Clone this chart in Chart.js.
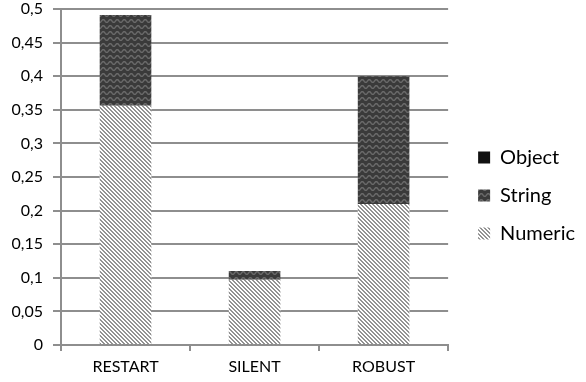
<!DOCTYPE html>
<html>
<head>
<meta charset="utf-8">
<script src="https://cdn.jsdelivr.net/npm/chart.js@4/dist/chart.umd.min.js"></script>
<style>
  html, body { margin: 0; padding: 0; background: #fff; }
  #wrap { width: 586px; height: 382px; }
</style>
</head>
<body>
<div id="wrap"><canvas id="c" width="586" height="382"></canvas></div>
<script>
// Share of failures per recovery mode, split by value type
const categories = ['RESTART', 'SILENT', 'ROBUST'];
const numericValues = [0.356, 0.097, 0.21];
const stringValues = [0.135, 0.013, 0.19];
const objectValues = [0, 0, 0];
const yTicks = { min: 0, max: 0.5, step: 0.05 };

// Fill patterns
function stripePattern() {
  const n = 4;
  const cv = document.createElement('canvas');
  cv.width = n; cv.height = n;
  const g = cv.getContext('2d');
  g.fillStyle = '#ffffff';
  g.fillRect(0, 0, n, n);
  g.fillStyle = '#939393';
  for (let y = 0; y < n; y++) {
    for (let x = 0; x < n; x++) {
      const d = ((x - y) % n + n) % n;
      if (d === 0 || d === 1) g.fillRect(x, y, 1, 1);
    }
  }
  return g.createPattern(cv, 'repeat');
}

function wavePattern() {
  const w = 7, h = 6;
  const cv = document.createElement('canvas');
  cv.width = w; cv.height = h;
  const g = cv.getContext('2d');
  g.fillStyle = '#3a3a3a';
  g.fillRect(0, 0, w, h);
  g.strokeStyle = '#6a6a6a';
  g.lineWidth = 1.4;
  for (let oy = -h; oy <= h; oy += h) {
    g.beginPath();
    for (let x = -w; x <= 2 * w; x += 0.25) {
      const y = oy + 3 + 1.4 * Math.sin(2 * Math.PI * x / w);
      if (x === -w) g.moveTo(x, y); else g.lineTo(x, y);
    }
    g.stroke();
  }
  return g.createPattern(cv, 'repeat');
}

const ctx = document.getElementById('c').getContext('2d');
const FONT = 'Lato, "Open Sans", sans-serif';
const AXIS = '#8e8e8e';

new Chart(ctx, {
  type: 'bar',
  data: {
    labels: categories,
    datasets: [
      { label: 'Numeric', data: numericValues, backgroundColor: stripePattern(), borderWidth: 0 },
      { label: 'String', data: stringValues, backgroundColor: wavePattern(), borderWidth: 0 },
      { label: 'Object', data: objectValues, backgroundColor: '#111111', borderWidth: 0 }
    ]
  },
  options: {
    responsive: false,
    animation: false,
    devicePixelRatio: 1,
    layout: { padding: { left: 0, top: 9, right: 1, bottom: 0 } },
    datasets: { bar: { categoryPercentage: 0.4, barPercentage: 1.0 } },
    plugins: {
      tooltip: { enabled: false },
      legend: {
        position: 'right',
        reverse: true,
        maxWidth: 220,
        labels: {
          boxWidth: 12,
          boxHeight: 12,
          padding: 18,
          color: '#000',
          font: { family: FONT, size: 20 }
        }
      }
    },
    scales: {
      x: {
        stacked: true,
        border: { color: AXIS, width: 2 },
        grid: { drawOnChartArea: false, drawTicks: true, tickLength: 6, color: AXIS, lineWidth: 2, offset: true },
        ticks: { color: '#000', padding: 6, font: { family: FONT, size: 16 } },
        afterFit: s => { s.height = 37; s.paddingLeft = 0; s.paddingRight = 0; }
      },
      y: {
        stacked: true,
        min: yTicks.min,
        max: yTicks.max,
        border: { color: AXIS, width: 2 },
        grid: { color: AXIS, lineWidth: 2, tickLength: 8 },
        ticks: {
          stepSize: yTicks.step,
          color: '#000',
          padding: 10,
          font: { family: FONT, size: 16 },
          callback: v => String(Number(v.toFixed(2))).replace('.', ',')
        },
        afterFit: s => { s.width = 61; s.paddingTop = 0; s.paddingBottom = 0; }
      },
      // spacer between the plot and the legend
      gap: {
        type: 'linear',
        position: 'right',
        display: true,
        grid: { display: false, drawTicks: false },
        border: { display: false },
        ticks: { display: false },
        afterFit: s => { s.width = 12; }
      }
    }
  }
});
</script>
</body>
</html>
